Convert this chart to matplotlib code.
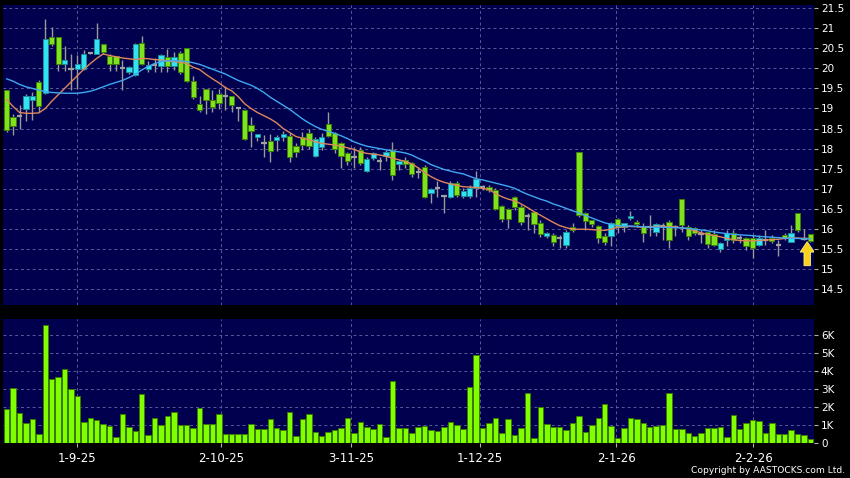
import matplotlib
matplotlib.use('Agg')
import matplotlib.pyplot as plt
from matplotlib.patches import FancyArrow
import numpy as np

# ---- data ----
opens = [19.47, 18.79, 18.82, 18.98, 19.20, 19.65, 19.38, 20.79, 20.79, 20.11,
         19.98, 19.98, 19.98, 20.38, 20.36, 20.60, 20.30, 20.30, 20.00, 19.92,
         19.84, 20.64, 19.98, 20.09, 20.07, 20.29, 20.07, 20.38, 20.50, 19.68,
         19.12, 19.49, 19.20, 19.36, 19.30, 19.30, 19.02, 18.97, 18.60, 18.29,
         18.13, 18.18, 18.22, 18.30, 18.32, 18.07, 18.30, 18.38, 17.82, 18.05,
         18.61, 18.38, 18.13, 17.88, 17.80, 17.97, 17.44, 17.76, 17.70, 17.82,
         17.97, 17.62, 17.72, 17.63, 17.41, 17.55, 16.89, 17.01, 16.82, 16.79,
         17.13, 16.82, 16.82, 17.03, 17.05, 17.05, 16.98, 16.57, 16.49, 16.79,
         16.54, 16.33, 16.41, 16.14, 15.82, 15.85, 15.76, 15.60, 16.04, 17.92,
         16.40, 16.22, 16.07, 15.83, 15.81, 16.25, 16.05, 16.26, 16.18, 16.08,
         16.04, 15.92, 16.08, 16.18, 16.04, 16.74, 16.05, 16.03, 15.88, 15.93,
         15.86, 15.49, 15.72, 15.90, 15.76, 15.76, 15.76, 15.60, 15.72, 15.78,
         15.60, 15.85, 15.68, 16.39, 15.75, 15.87]
highs = [19.47, 18.86, 19.08, 19.36, 19.40, 19.70, 21.22, 21.04, 20.79, 20.56,
         20.36, 20.33, 20.45, 20.40, 21.12, 20.62, 20.36, 20.30, 20.20, 20.06,
         20.64, 20.81, 20.19, 20.25, 20.37, 20.48, 20.40, 20.44, 20.50, 19.82,
         19.30, 19.49, 19.45, 19.49, 19.57, 19.30, 19.02, 18.99, 18.79, 18.37,
         18.33, 18.37, 18.35, 18.45, 18.38, 18.13, 18.42, 18.50, 18.30, 18.38,
         18.91, 18.42, 18.17, 17.92, 18.05, 18.05, 17.80, 17.92, 17.80, 17.97,
         18.16, 17.72, 17.78, 17.67, 17.55, 17.60, 17.01, 17.18, 16.85, 17.18,
         17.18, 17.01, 17.09, 17.43, 17.09, 17.09, 17.01, 16.59, 16.51, 16.82,
         16.59, 16.39, 16.45, 16.22, 15.93, 15.89, 15.85, 15.97, 16.14, 17.92,
         16.43, 16.22, 16.09, 15.89, 16.18, 16.26, 16.14, 16.45, 16.22, 16.14,
         16.35, 16.14, 16.14, 16.22, 16.09, 16.74, 16.09, 16.05, 15.97, 15.93,
         15.97, 15.68, 15.97, 15.97, 15.85, 15.80, 15.85, 15.85, 15.97, 15.85,
         15.72, 15.89, 16.09, 16.39, 16.00, 15.87]
lows = [18.42, 18.35, 18.50, 18.70, 18.72, 18.91, 19.36, 20.55, 19.93, 19.94,
        19.45, 19.49, 19.95, 20.36, 20.36, 20.36, 19.94, 19.94, 19.46, 19.85,
        19.82, 20.09, 19.92, 19.92, 19.92, 19.92, 19.95, 19.86, 19.66, 19.24,
        18.91, 18.87, 18.91, 18.99, 18.95, 18.91, 18.70, 18.22, 18.04, 18.20,
        17.80, 17.67, 17.95, 18.18, 17.67, 17.80, 17.97, 18.00, 17.80, 17.97,
        18.30, 17.88, 17.51, 17.59, 17.51, 17.59, 17.42, 17.72, 17.47, 17.68,
        17.22, 17.47, 17.51, 17.30, 17.26, 16.76, 16.64, 16.80, 16.39, 16.76,
        16.80, 16.76, 16.76, 16.80, 16.97, 16.93, 16.47, 16.18, 16.01, 16.47,
        16.09, 15.97, 15.89, 15.80, 15.76, 15.57, 15.51, 15.51, 15.93, 16.30,
        15.97, 16.05, 15.64, 15.60, 15.56, 15.89, 15.93, 16.22, 16.04, 15.68,
        15.81, 15.81, 15.72, 15.51, 15.81, 15.93, 15.72, 15.85, 15.64, 15.51,
        15.56, 15.43, 15.56, 15.64, 15.64, 15.47, 15.27, 15.56, 15.60, 15.64,
        15.31, 15.72, 15.68, 15.93, 15.72, 15.68]
closes = [18.47, 18.57, 18.82, 19.30, 19.30, 19.06, 20.73, 20.60, 20.11, 20.21,
          19.98, 20.11, 20.36, 20.38, 20.73, 20.40, 20.11, 20.11, 20.00, 20.04,
          20.60, 20.11, 20.09, 20.09, 20.33, 20.07, 20.29, 19.90, 19.68, 19.28,
          18.97, 19.20, 19.03, 19.14, 19.30, 19.09, 19.02, 18.25, 18.44, 18.37,
          18.13, 17.95, 18.28, 18.37, 17.80, 17.92, 18.09, 18.07, 18.23, 18.30,
          18.31, 17.98, 17.82, 17.68, 17.80, 17.63, 17.74, 17.88, 17.70, 17.91,
          17.34, 17.70, 17.61, 17.36, 17.41, 16.79, 16.99, 17.01, 16.82, 17.13,
          16.84, 16.94, 17.01, 17.23, 17.05, 16.97, 16.49, 16.24, 16.24, 16.54,
          16.16, 16.33, 16.12, 15.87, 15.89, 15.68, 15.76, 15.93, 15.97, 16.35,
          16.20, 16.12, 15.76, 15.68, 16.14, 16.04, 16.14, 16.33, 16.12, 15.89,
          16.04, 16.12, 16.08, 15.72, 16.04, 16.10, 15.81, 15.90, 15.88, 15.62,
          15.60, 15.64, 15.89, 15.72, 15.76, 15.56, 15.52, 15.76, 15.72, 15.70,
          15.60, 15.76, 15.90, 15.97, 15.75, 15.70]
ma_short = [19.22, 19.05, 18.90, 18.88, 18.88, 18.89, 19.00, 19.18, 19.34, 19.50,
            19.66, 19.82, 19.98, 20.12, 20.25, 20.36, 20.32, 20.29, 20.26, 20.24,
            20.22, 20.25, 20.24, 20.22, 20.21, 20.19, 20.17, 20.15, 20.12, 20.03,
            19.97, 19.85, 19.74, 19.64, 19.52, 19.44, 19.30, 19.12, 19.00, 18.90,
            18.82, 18.74, 18.64, 18.50, 18.40, 18.30, 18.26, 18.22, 18.17, 18.13,
            18.11, 18.09, 18.06, 18.02, 17.98, 17.92, 17.88, 17.86, 17.84, 17.81,
            17.76, 17.72, 17.68, 17.62, 17.52, 17.40, 17.30, 17.22, 17.16, 17.12,
            17.08, 17.05, 17.04, 17.03, 17.01, 16.98, 16.88, 16.80, 16.74, 16.70,
            16.62, 16.53, 16.43, 16.34, 16.25, 16.16, 16.08, 16.03, 15.99, 15.99,
            15.99, 15.98, 15.97, 15.96, 15.99, 16.04, 16.05, 16.06, 16.05, 16.04,
            16.05, 16.06, 16.06, 16.05, 16.05, 16.02, 16.00, 15.95, 15.90, 15.86,
            15.83, 15.80, 15.76, 15.73, 15.71, 15.70, 15.70, 15.71, 15.72, 15.73,
            15.74, 15.76, 15.77, 15.77, 15.76, 15.76]
ma_long = [19.74, 19.68, 19.60, 19.54, 19.50, 19.46, 19.42, 19.40, 19.39, 19.38,
           19.38, 19.38, 19.40, 19.43, 19.48, 19.54, 19.60, 19.65, 19.70, 19.77,
           19.85, 19.96, 20.05, 20.12, 20.17, 20.19, 20.19, 20.19, 20.17, 20.14,
           20.10, 20.04, 19.98, 19.92, 19.86, 19.78, 19.70, 19.64, 19.58, 19.50,
           19.40, 19.28, 19.18, 19.08, 18.98, 18.86, 18.74, 18.64, 18.55, 18.48,
           18.43, 18.38, 18.32, 18.25, 18.17, 18.11, 18.06, 18.03, 18.00, 17.97,
           17.94, 17.92, 17.89, 17.84, 17.76, 17.69, 17.60, 17.54, 17.48, 17.44,
           17.40, 17.37, 17.31, 17.25, 17.22, 17.18, 17.14, 17.10, 17.06, 17.01,
           16.93, 16.86, 16.80, 16.74, 16.69, 16.62, 16.57, 16.51, 16.45, 16.40,
           16.33, 16.27, 16.21, 16.15, 16.11, 16.08, 16.07, 16.07, 16.06, 16.05,
           16.04, 16.04, 16.04, 16.03, 16.03, 16.02, 16.01, 15.99, 15.97, 15.95,
           15.92, 15.90, 15.88, 15.86, 15.85, 15.84, 15.83, 15.81, 15.80, 15.79,
           15.78, 15.77, 15.76, 15.76, 15.75, 15.75]
volume_k = [1.89, 3.06, 1.67, 1.15, 1.33, 0.52, 6.57, 3.57, 3.67, 4.15,
            3.00, 2.65, 1.17, 1.39, 1.31, 1.07, 0.96, 0.35, 1.61, 0.93,
            0.67, 2.72, 0.44, 1.41, 1.02, 1.52, 1.76, 1.02, 1.02, 0.87,
            1.98, 1.06, 1.06, 1.61, 0.50, 0.50, 0.50, 0.54, 1.06, 0.80,
            0.80, 1.37, 0.87, 0.72, 1.72, 0.41, 1.35, 1.61, 0.63, 0.43,
            0.61, 0.74, 0.85, 1.43, 0.59, 1.17, 0.89, 0.80, 1.07, 0.35,
            3.44, 0.83, 0.83, 0.57, 0.89, 0.98, 0.74, 0.67, 0.93, 1.17,
            1.00, 0.80, 3.13, 4.90, 0.85, 1.13, 1.43, 0.57, 1.35, 0.46,
            0.85, 2.80, 0.30, 2.00, 1.09, 0.89, 0.89, 0.74, 1.13, 1.54,
            0.63, 1.04, 1.43, 2.17, 0.96, 0.28, 0.83, 1.43, 1.33, 1.13,
            0.89, 0.98, 1.04, 2.80, 0.80, 0.80, 0.59, 0.43, 0.59, 0.83,
            0.83, 0.93, 0.37, 1.56, 0.78, 1.15, 1.30, 1.24, 0.56, 1.11,
            0.50, 0.50, 0.74, 0.50, 0.46, 0.24]
date_labels = ['1-9-25', '2-10-25', '3-11-25', '1-12-25', '2-1-26', '2-2-26']
date_pos = [11, 33.3, 53.5, 73.6, 94.8, 116.1]
price_ticks = [14.5, 15, 15.5, 16, 16.5, 17, 17.5, 18, 18.5, 19, 19.5, 20, 20.5, 21, 21.5]
vol_ticks = [0, 1, 2, 3, 4, 5, 6]

# ---- colours ----
PANEL = '#00004f'
GRID = '#5a5a9a'
UP = '#33e3f2'
UP_EDGE = '#1b8c99'
DOWN = '#7ee21c'
DOWN_EDGE = '#3d7d08'
DOJI = '#a0a0a0'
WICK = '#9a9a9a'

o = np.array(opens)
h = np.array(highs)
l = np.array(lows)
c = np.array(closes)
x = np.arange(len(o))

fig = plt.figure(figsize=(8.5, 4.78), dpi=100, facecolor='black')
ax = fig.add_axes([0.0041, 0.3619, 0.9535, 0.6276])
axv = fig.add_axes([0.0041, 0.0726, 0.9535, 0.2600], sharex=ax)

for a in (ax, axv):
    a.set_facecolor(PANEL)
    for s in a.spines.values():
        s.set_visible(False)
    a.grid(True, color=GRID, linestyle=(0, (3, 3)), linewidth=0.7)
    a.set_axisbelow(True)
    a.yaxis.tick_right()
    a.tick_params(axis='y', colors='#b0b0b0', labelcolor='white', length=3, width=0.8,
                  pad=2, labelsize=7.5)

# candles: wicks, bodies, doji
ax.vlines(x, l, h, color=WICK, linewidth=1, zorder=2)
up = c > o
down = c < o
flat = c == o
ax.bar(x[up], (c - o)[up], bottom=o[up], width=0.82, color=UP,
       edgecolor=UP_EDGE, linewidth=0.7, zorder=3)
ax.bar(x[down], (o - c)[down], bottom=c[down], width=0.82, color=DOWN,
       edgecolor=DOWN_EDGE, linewidth=0.7, zorder=3)
ax.hlines(c[flat], x[flat] - 0.41, x[flat] + 0.41, color=DOJI, linewidth=1.6, zorder=3)

# moving averages
ax.plot(x, ma_short, color='#e0875a', linewidth=1.0, zorder=4)
ax.plot(x, ma_long, color='#40a8f0', linewidth=1.0, zorder=4)

# yellow arrow under the last candle
last = len(o) - 1
ax.add_patch(FancyArrow(last - 0.5, l[last] - 0.6, 0, 0.6, width=1.0, head_width=2.2,
                        head_length=0.26, length_includes_head=True,
                        facecolor='#f7d21a', edgecolor='#fff08a', linewidth=0.6, zorder=5))

ax.set_ylim(14.10, 21.58)
ax.set_yticks(price_ticks)
ax.set_yticklabels(['%g' % t for t in price_ticks])
ax.tick_params(axis='x', which='both', bottom=False, labelbottom=False)

# volume
axv.bar(x, volume_k, width=0.85, color='#80ff00', edgecolor='#3a7a00', linewidth=0.7, zorder=3)
axv.set_ylim(0, 6.9)
axv.set_yticks(vol_ticks)
axv.set_yticklabels(['0'] + ['%dK' % t for t in vol_ticks[1:]])

axv.set_xlim(-0.5, 125.55)
axv.set_xticks(date_pos)
axv.set_xticklabels(date_labels)
axv.tick_params(axis='x', colors='#b0b0b0', labelcolor='white', length=3, width=0.8,
                pad=3.5, labelsize=8.5)

fig.text(0.994, 0.0167, 'Copyright by AASTOCKS.com Ltd.', color='white', fontsize=6.6,
         ha='right', va='center')

fig.savefig('out.png', dpi=100, facecolor='black')
